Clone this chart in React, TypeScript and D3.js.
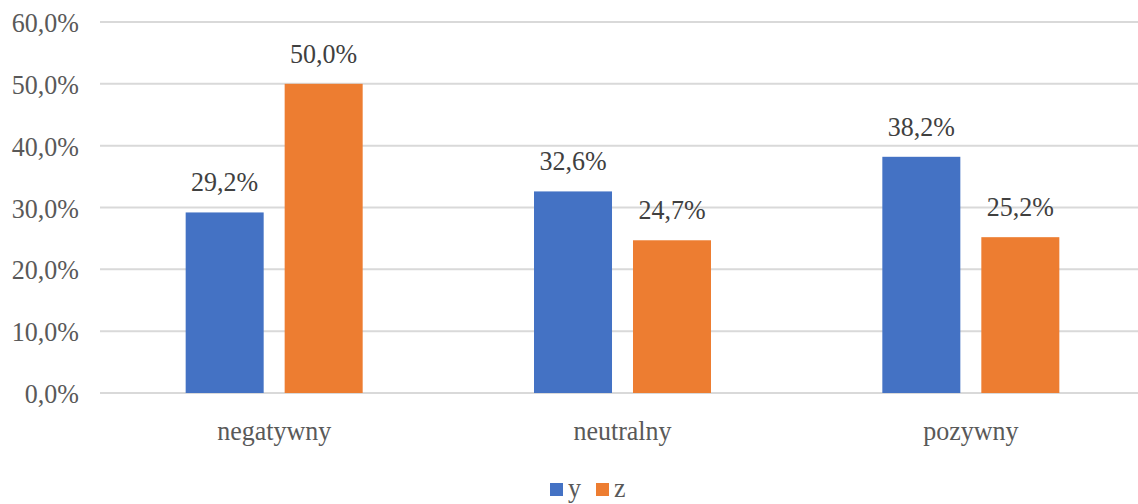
import React from 'react';
import * as d3 from 'd3';

const categories = ['negatywny', 'neutralny', 'pozywny'];
const seriesNames = ['y', 'z'];
const valuesY = [29.2, 32.6, 38.2];
const valuesZ = [50.0, 24.7, 25.2];
const yTicks = [0, 10, 20, 30, 40, 50, 60];
const colors = ['#4472C4', '#ED7D31'];

const fmt = (v: number) => v.toFixed(1).replace('.', ',') + '%';

const width = 1138;
const height = 504;
const left = 100;
const right = 1145;
const top = 22;
const bottom = 393;
const font = 'Liberation Serif';
const textColor = '#595959';

// the reference text is a bit taller than plain Times, stretch it slightly
const T = ({ x, y, anchor, fill, children }: any) => (
    <text transform={`translate(${x},${y}) scale(1,1.08)`} textAnchor={anchor || 'start'}
        fontFamily={font} fontSize={26} fill={fill || textColor}>
        {children}
    </text>
);

export default function App() {
    const x = d3.scaleBand<string>().domain(categories).range([left, right]);
    // inner band for the two bars within a category
    const x1 = d3.scaleBand<string>().domain(seriesNames).range([0, 177]).paddingInner(0.212);
    const y = d3.scaleLinear().domain([0, 60]).range([bottom, top]);

    const barX = (i: number, si: number) =>
        x(categories[i])! + x.bandwidth() / 2 - 88.5 + x1(seriesNames[si])!;

    const series = [valuesY, valuesZ];
    const legendX = [550, 596];

    return (
        <div style={{ position: 'fixed', left: 0, top: 0, background: '#fff' }}>
            <svg width={width} height={height} style={{ display: 'block' }} fontFamily={font}>
                {/* gridlines */}
                {yTicks.map(t => (
                    <line key={'g' + t} x1={left} x2={width} y1={y(t)} y2={y(t)} stroke="#D9D9D9" strokeWidth={2} />
                ))}
                {/* y tick labels */}
                {yTicks.map(t => (
                    <T key={'t' + t} x={79} y={y(t) + 10} anchor="end">{fmt(t)}</T>
                ))}
                {series.map((vals, si) => (
                    <g key={'s' + si}>
                        {vals.map((v, i) => (
                            <rect key={i} x={barX(i, si)} y={y(v)} width={x1.bandwidth()} height={bottom - y(v)} fill={colors[si]} />
                        ))}
                        {vals.map((v, i) => (
                            <T key={'l' + i} x={barX(i, si) + x1.bandwidth() / 2} y={y(v) - 21} anchor="middle" fill="#404040">
                                {fmt(v)}
                            </T>
                        ))}
                    </g>
                ))}
                {/* category labels */}
                {categories.map(c => (
                    <T key={c} x={x(c)! + x.bandwidth() / 2} y={440} anchor="middle">{c}</T>
                ))}
                {/* legend */}
                {seriesNames.map((name, i) => (
                    <g key={name}>
                        <rect x={legendX[i]} y={483} width={13} height={13} fill={colors[i]} />
                        <T x={legendX[i] + 18} y={497}>{name}</T>
                    </g>
                ))}
            </svg>
        </div>
    );
}
